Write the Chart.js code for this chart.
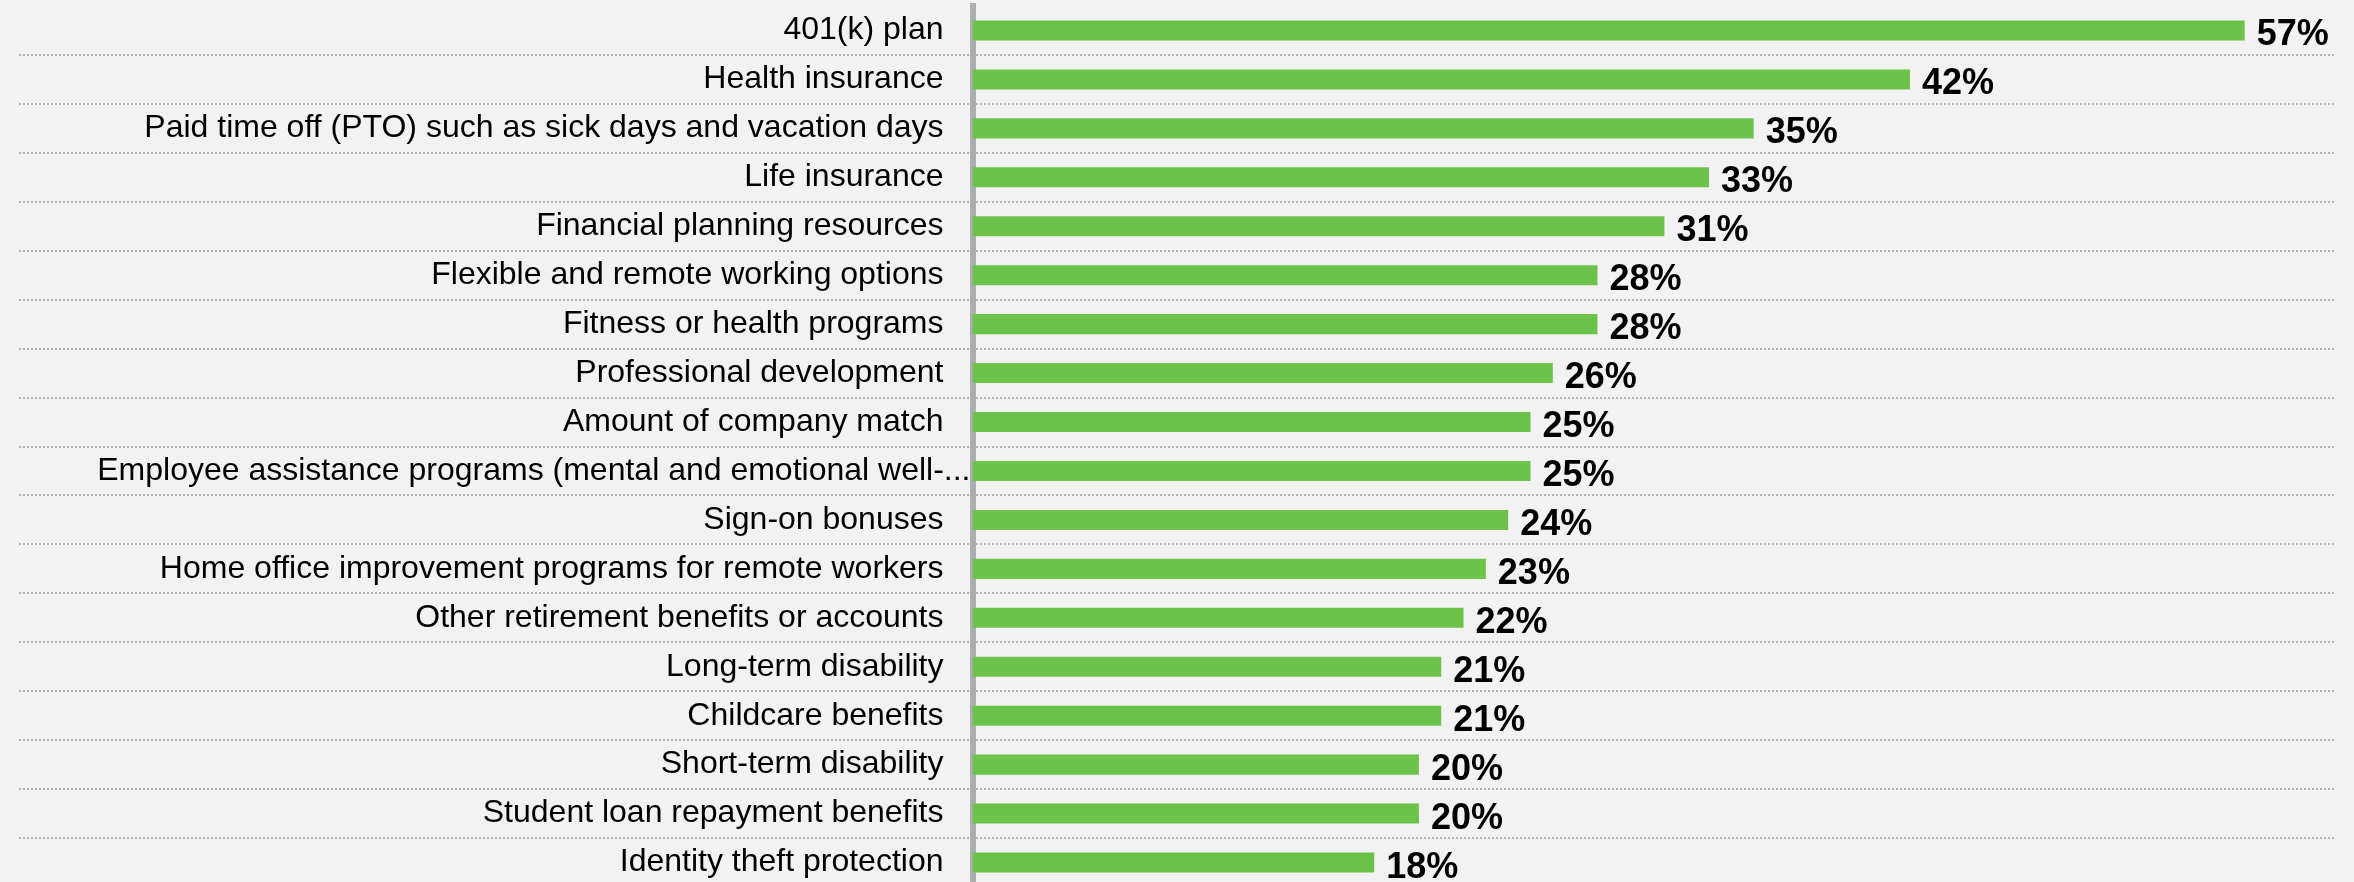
<!DOCTYPE html>
<html>
<head>
<meta charset="utf-8">
<title>Benefits</title>
<script src="https://cdn.jsdelivr.net/npm/chart.js@4"></script>
<style>
  html, body { margin: 0; padding: 0; background: #f2f2f2; overflow: hidden; }
  #wrap { width: 2354px; height: 887px; position: relative; }
</style>
</head>
<body>
<div id="wrap"><canvas id="benefitsChart"></canvas></div>
<script>
const categories = [
  '401(k) plan',
  'Health insurance',
  'Paid time off (PTO) such as sick days and vacation days',
  'Life insurance',
  'Financial planning resources',
  'Flexible and remote working options',
  'Fitness or health programs',
  'Professional development',
  'Amount of company match',
  'Employee assistance programs (mental and emotional well-...',
  'Sign-on bonuses',
  'Home office improvement programs for remote workers',
  'Other retirement benefits or accounts',
  'Long-term disability',
  'Childcare benefits',
  'Short-term disability',
  'Student loan repayment benefits',
  'Identity theft protection'
];
const shares = [57, 42, 35, 33, 31, 28, 28, 26, 25, 25, 24, 23, 22, 21, 21, 20, 20, 18];

const FONT = '"Liberation Sans", Arial, sans-serif';
const GRID = '#b3b3b3';

// truncated labels run past the label column, right up to the axis line
const isTruncated = i => categories[i].endsWith('...');

// percentage labels at the end of each bar
const valueLabels = {
  id: 'valueLabels',
  afterDatasetsDraw(chart) {
    const ctx = chart.ctx;
    const meta = chart.getDatasetMeta(0);
    ctx.save();
    ctx.font = 'bold 36px ' + FONT;
    ctx.fillStyle = '#000';
    ctx.textAlign = 'left';
    ctx.textBaseline = 'alphabetic';
    meta.data.forEach((bar, i) => {
      ctx.fillText(shares[i] + '%', bar.x + 12, bar.y + 15);
    });
    ctx.restore();
  }
};

const truncatedLabels = {
  id: 'truncatedLabels',
  afterDraw(chart) {
    const ctx = chart.ctx;
    const y = chart.scales.y;
    ctx.save();
    ctx.font = '32px ' + FONT;
    ctx.fillStyle = '#000';
    ctx.textAlign = 'right';
    ctx.textBaseline = 'middle';
    categories.forEach((label, i) => {
      if (isTruncated(i)) ctx.fillText(label, y.right - 2, y.getPixelForTick(i));
    });
    ctx.restore();
  }
};

// hide the boundary lines above the first and below the last row
const gridColor = ctx => (ctx.index === 0 || ctx.index === undefined) ? 'rgba(0,0,0,0)' : GRID;

new Chart(document.getElementById('benefitsChart'), {
  type: 'bar',
  data: {
    labels: categories,
    datasets: [{
      data: shares,
      backgroundColor: '#6cc24a',
      borderWidth: 0,
      categoryPercentage: 1,
      barPercentage: 0.41
    }]
  },
  options: {
    indexAxis: 'y',
    responsive: true,
    maintainAspectRatio: false,
    animation: false,
    layout: { padding: { top: 6, right: 20, bottom: 0, left: 0 } },
    plugins: {
      legend: { display: false },
      tooltip: { enabled: false }
    },
    scales: {
      x: {
        display: false,
        min: 0,
        max: 61
      },
      y: {
        z: 1,
        afterFit(scale) { scale.width = 972.5; },
        border: { display: true, color: '#abaeb1', width: 6, dash: [2, 2] },
        grid: {
          offset: true,
          drawTicks: true,
          tickLength: 953.5,
          lineWidth: 2,
          tickWidth: 2,
          color: gridColor,
          tickColor: gridColor,
          tickBorderDash: [2, 2]
        },
        ticks: {
          autoSkip: false,
          padding: -924.5,
          color: ctx => isTruncated(ctx.index) ? 'rgba(0,0,0,0)' : '#000',
          font: { family: FONT, size: 32 }
        }
      }
    }
  },
  plugins: [valueLabels, truncatedLabels]
});
</script>
</body>
</html>
